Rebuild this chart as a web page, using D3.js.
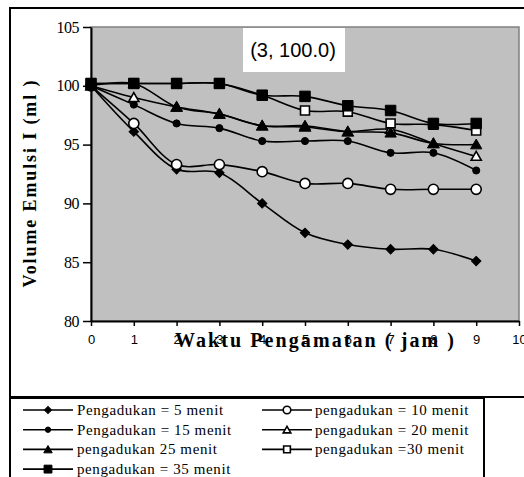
<!DOCTYPE html>
<html>
<head>
<meta charset="utf-8">
<script src="https://cdn.jsdelivr.net/npm/d3@7"></script>
<style>
  body { margin:0; background:#fff; }
  svg { display:block; }
</style>
</head>
<body>
<div class="container"></div>
<script>
// data
var hours = [0,1,2,3,4,5,6,7,8,9];
var xTicks = [0,1,2,3,4,5,6,7,8,9,10];
var yTicks = [80,85,90,95,100,105];

var menit5  = [100.0, 96.1, 92.9, 92.6, 90.0, 87.5, 86.5, 86.1, 86.1, 85.1];
var menit10 = [100.0, 96.8, 93.3, 93.3, 92.7, 91.7, 91.7, 91.2, 91.2, 91.2];
var menit15 = [100.0, 98.4, 96.8, 96.4, 95.3, 95.3, 95.3, 94.3, 94.3, 92.8];
var menit20 = [100.0, 99.0, 98.2, 97.6, 96.6, 96.5, 96.1, 96.3, 95.1, 94.0];
var menit25 = [100.0, 100.2, 98.2, 97.6, 96.6, 96.6, 96.1, 96.0, 95.1, 95.0];
var menit30 = [100.2, 100.2, 100.2, 100.2, 99.2, 97.9, 97.8, 96.8, 96.7, 96.2];
var menit35 = [100.2, 100.2, 100.2, 100.2, 99.2, 99.1, 98.3, 97.9, 96.8, 96.8];

var labels = ["Pengadukan = 5 menit","pengadukan = 10 menit","Pengadukan = 15 menit",
              "pengadukan = 20 menit","pengadukan 25 menit","pengadukan =30 menit",
              "pengadukan = 35 menit"];

var width = 524, height = 477;
var svg = d3.select(".container").append("svg").attr("width",width).attr("height",height);

var margin = {left:91, top:27, right:519, bottom:321};

var x = d3.scaleLinear().domain([0,10]).range([margin.left, margin.right]);
var y = d3.scaleLinear().domain([80,105]).range([margin.bottom, margin.top]);

// chart frame
svg.append("rect").attr("x",10).attr("y",8).attr("width",530).attr("height",389)
   .attr("fill","#fff").attr("stroke","#000").attr("stroke-width",2);

// plot area
svg.append("rect").attr("x",x(0)).attr("y",y(105)).attr("width",x(10)-x(0)).attr("height",y(80)-y(105))
   .attr("fill","#c0c0c0").attr("stroke","#808080").attr("stroke-width",1.5);

// annotation label
svg.append("rect").attr("x",243).attr("y",y(105)+1).attr("width",102).attr("height",44).attr("fill","#fff");
svg.append("text").attr("x",293).attr("y",57).attr("text-anchor","middle")
   .attr("font-family","Liberation Sans, Arial").attr("font-size",20).text("(3, 100.0)");

// axes
var yAxis = d3.axisLeft(y).tickValues(yTicks).tickSize(8).tickSizeOuter(0);
var gy = svg.append("g").attr("transform","translate("+x(0)+",0)").call(yAxis);
gy.select(".domain").attr("stroke","#000").attr("stroke-width",2);
gy.selectAll(".tick line").attr("stroke-width",1.5);
gy.selectAll(".tick text").attr("font-family","Liberation Serif, Times New Roman").attr("font-size",16)
   .attr("x",-12).attr("letter-spacing",-0.5);

var xAxis = d3.axisBottom(x).tickValues(xTicks).tickSize(5).tickSizeOuter(0);
var gx = svg.append("g").attr("transform","translate(0,"+y(80)+")").call(xAxis);
gx.select(".domain").attr("stroke","#000").attr("stroke-width",2);
gx.selectAll(".tick line").attr("stroke-width",1.5);
gx.selectAll(".tick text").attr("font-family","Liberation Sans, Arial").attr("font-size",13).attr("y",14);

// titles
svg.append("text").attr("x",175).attr("y",347)
   .attr("font-family","Liberation Serif, Times New Roman").attr("font-weight","bold").attr("font-size",20)
   .attr("textLength",279).attr("lengthAdjust","spacing")
   .text("Waktu Pengamatan ( jam )");

svg.append("text").attr("transform","translate(36,184) rotate(-90)").attr("text-anchor","middle")
   .attr("font-family","Liberation Serif, Times New Roman").attr("font-weight","bold").attr("font-size",18)
   .attr("textLength",207).attr("lengthAdjust","spacing")
   .text("Volume Emulsi I (ml )");

// series
var series = [
  {name:labels[0], values:menit5,  shape:"diamond",  fill:"#000", r:1},
  {name:labels[1], values:menit10, shape:"circle",   fill:"#fff", r:1},
  {name:labels[2], values:menit15, shape:"dot",      fill:"#000", r:1},
  {name:labels[3], values:menit20, shape:"triangle", fill:"#fff", r:1},
  {name:labels[4], values:menit25, shape:"triangle", fill:"#000", r:1},
  {name:labels[5], values:menit30, shape:"square",   fill:"#fff", r:1},
  {name:labels[6], values:menit35, shape:"square",   fill:"#000", r:1}
];

function marker(sel, s, k){
  var p;
  if(s.shape=="diamond") p = d3.symbol(d3.symbolSquare, 44*k*k)();
  else if(s.shape=="circle") p = d3.symbol(d3.symbolCircle, 80*k*k)();
  else if(s.shape=="dot") p = d3.symbol(d3.symbolCircle, 40*k*k)();
  else if(s.shape=="triangle") p = d3.symbol(d3.symbolTriangle, (s.fill=="#000"?55:45)*k*k)();
  else p = d3.symbol(d3.symbolSquare, (s.fill=="#000"?110:80)*k*k)();
  var m = sel.append("path").attr("d",p)
     .attr("fill",s.fill).attr("stroke","#000").attr("stroke-width",s.fill=="#000"?1:1.6);
  if(s.shape=="diamond") m.attr("transform","rotate(45)");
  if(s.shape=="triangle") m.attr("transform","translate(0,1)");
  return m;
}

var line = d3.line()
   .x(function(d,i){ return x(hours[i]); })
   .y(function(d){ return y(d); })
   .curve(d3.curveCatmullRom.alpha(0.5));

series.forEach(function(s){
  var g = svg.append("g");
  g.append("path").attr("d",line(s.values)).attr("fill","none").attr("stroke","#000").attr("stroke-width",1.6);
  s.values.forEach(function(v,i){
    var mg = g.append("g").attr("transform","translate("+x(hours[i])+","+y(v)+")");
    marker(mg, s, 1);
  });
});

// legend
svg.append("rect").attr("x",10).attr("y",398).attr("width",474).attr("height",100)
   .attr("fill","#fff").attr("stroke","#000").attr("stroke-width",2);

series.forEach(function(s,i){
  var col = i%2, row = Math.floor(i/2);
  var x0 = col==0 ? 23 : 262, cy = 410 + row*19.7;
  var lg = svg.append("g");
  lg.append("line").attr("x1",x0).attr("x2",x0+50).attr("y1",cy).attr("y2",cy)
     .attr("stroke","#000").attr("stroke-width",1.6);
  var mg = lg.append("g").attr("transform","translate("+(x0+25)+","+cy+")");
  marker(mg, s, 0.75);
  lg.append("text").attr("x",x0+ (col==0?54:53)).attr("y",cy+5)
     .attr("font-family","Liberation Serif, Times New Roman").attr("font-size",15)
     .attr("letter-spacing",0.6).text(s.name);
});
</script>
</body>
</html>
